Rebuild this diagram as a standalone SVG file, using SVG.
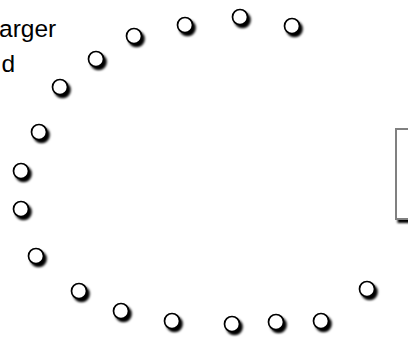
<svg xmlns="http://www.w3.org/2000/svg" width="408" height="340" viewBox="0 0 408 340">
<defs>
<filter id="sh" x="-50%" y="-50%" width="200%" height="200%">
<feDropShadow dx="2.5" dy="3" stdDeviation="0.9" flood-color="#000" flood-opacity="1"/>
</filter>
</defs>
<style>
.c{fill:#fff;stroke:#000;stroke-width:1.7;filter:url(#sh)}
.t{font-family:"Liberation Sans",Arial,sans-serif;font-size:24.5px;fill:#000}
.box{fill:#fff;stroke:#808080;stroke-width:2;filter:url(#sh)}
</style>
<rect width="408" height="340" fill="#fff"/>
<g id="label">
<text class="t" x="-1" y="37">arger</text>
<text class="t" x="1.5" y="71.5">d</text>
</g>
<g id="box"><rect class="box" x="396" y="129" width="30" height="90"/></g>
<g id="circles">
<circle class="c" cx="60" cy="87" r="7.5"/>
<circle class="c" cx="96" cy="59" r="7.5"/>
<circle class="c" cx="134" cy="36" r="7.5"/>
<circle class="c" cx="185" cy="25" r="7.5"/>
<circle class="c" cx="240" cy="17" r="7.5"/>
<circle class="c" cx="292" cy="26" r="7.5"/>
<circle class="c" cx="39" cy="132" r="7.5"/>
<circle class="c" cx="21" cy="171" r="7.5"/>
<circle class="c" cx="21" cy="209" r="7.5"/>
<circle class="c" cx="36" cy="256" r="7.5"/>
<circle class="c" cx="79" cy="291" r="7.5"/>
<circle class="c" cx="121" cy="311" r="7.5"/>
<circle class="c" cx="172" cy="321" r="7.5"/>
<circle class="c" cx="232" cy="324" r="7.5"/>
<circle class="c" cx="276" cy="322" r="7.5"/>
<circle class="c" cx="321" cy="321" r="7.5"/>
<circle class="c" cx="367" cy="289" r="7.5"/>
</g>
<g id="connectors"></g>
</svg>
